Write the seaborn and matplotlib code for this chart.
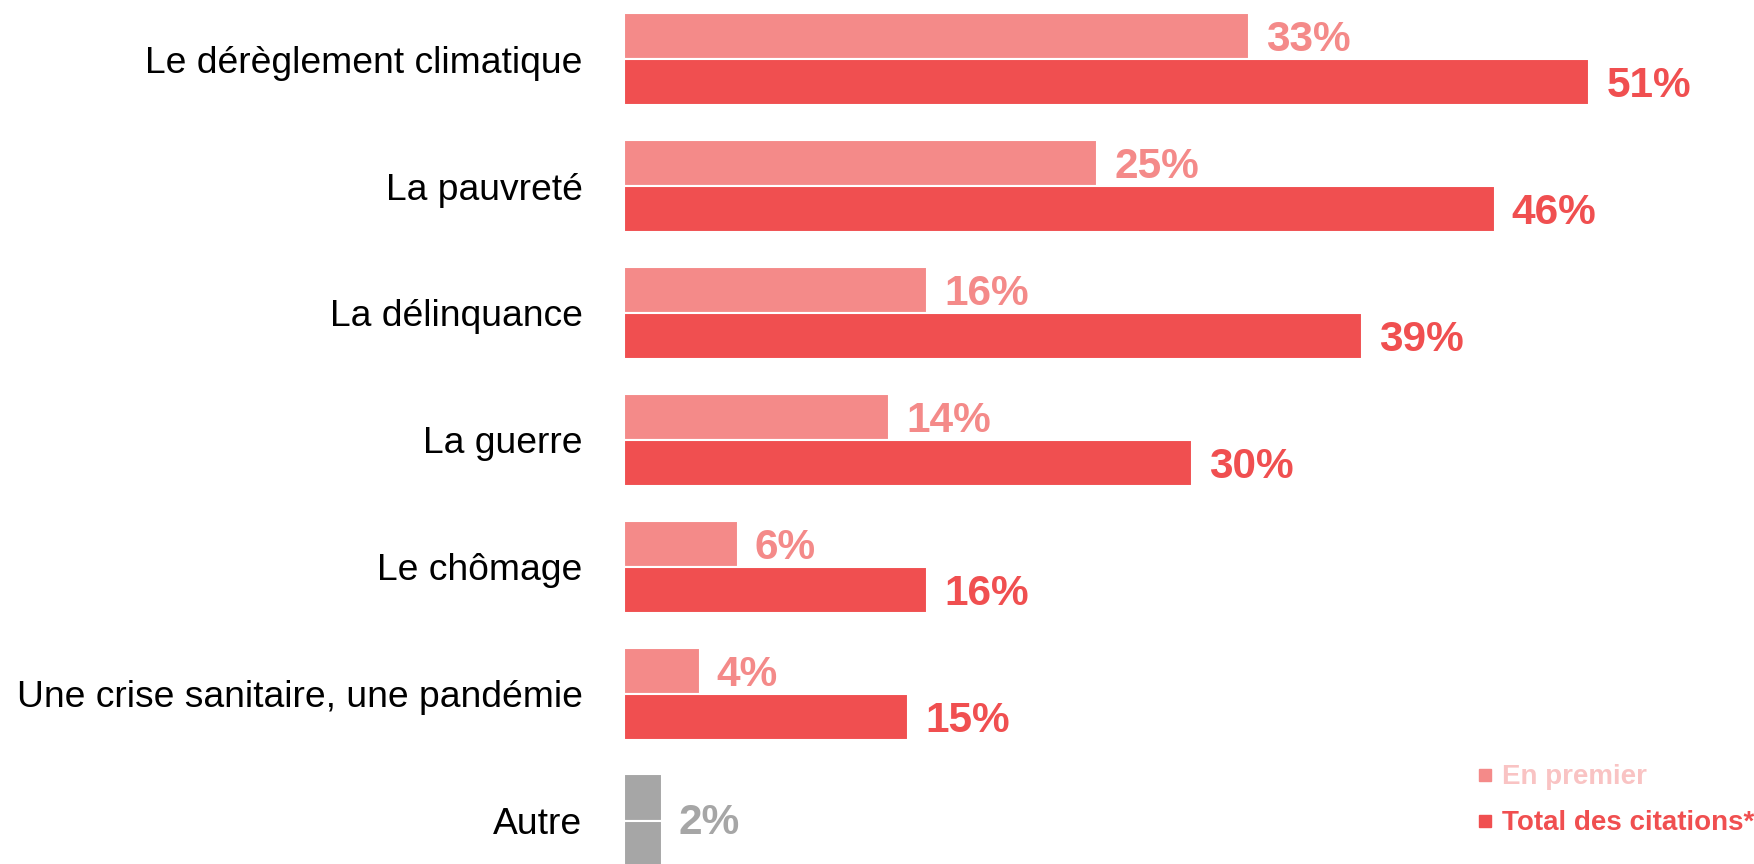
import pandas as pd
import matplotlib.pyplot as plt
import seaborn as sns
from matplotlib.lines import Line2D

# Data
categories = ['Le dérèglement climatique', 'La pauvreté', 'La délinquance', 'La guerre',
              'Le chômage', 'Une crise sanitaire, une pandémie', 'Autre']
en_premier = [33, 25, 16, 14, 6, 4, 2]
total_citations = [51, 46, 39, 30, 16, 15, 2]
series_names = ['En premier', 'Total des citations*']

light = '#F48A89'
dark = '#F04F50'
grey = '#A6A6A6'
legend_light = '#F9C3C3'

sns.set_style('white')
plt.rcParams['font.family'] = ['Liberation Sans', 'DejaVu Sans']

df = pd.DataFrame({
    'Categorie': categories * 2,
    'Valeur': en_premier + total_citations,
    'Serie': [series_names[0]] * len(categories) + [series_names[1]] * len(categories),
})

fig = plt.figure(figsize=(17.54, 8.64), dpi=100)
ax = fig.add_axes([0.3558, 0.0, 0.6442, 1.0])

sns.barplot(data=df, y='Categorie', x='Valeur', hue='Serie', order=categories,
            hue_order=series_names, palette=[light, dark], saturation=1, width=0.73,
            orient='h', edgecolor='white', linewidth=1.5, legend=False, ax=ax)

# grey bars for "Autre"
n = len(categories)
for container in ax.containers:
    container.patches[n - 1].set_facecolor(grey)

# value labels
for i, container in enumerate(ax.containers):
    color = light if i == 0 else dark
    for j, patch in enumerate(container.patches):
        if j == n - 1:
            continue
        v = patch.get_width()
        yc = patch.get_y() + patch.get_height() / 2
        ax.text(v + 0.9, yc + 0.03, f'{v:.0f}%', color=color, fontsize=30.5,
                fontweight='bold', va='center', ha='left')
ax.text(en_premier[-1] + 0.9, n - 1 + 0.02, f'{en_premier[-1]}%', color=grey, fontsize=30.5,
        fontweight='bold', va='center', ha='left')

ax.set_xlim(0, 59.7)
ax.set_ylim(6.34, -0.465)
ax.set_xlabel('')
ax.set_ylabel('')
ax.set_xticks([])
ax.tick_params(axis='y', length=0, pad=30, labelsize=26.8, labelcolor='black')
sns.despine(ax=ax, left=True, bottom=True)

handles = [Line2D([], [], marker='s', linestyle='none', color=light, markersize=8),
           Line2D([], [], marker='s', linestyle='none', color=dark, markersize=8)]
fig.legend(handles, series_names, loc='lower right', bbox_to_anchor=(1.0, 0.032),
           frameon=False, handlelength=0.5, handletextpad=0.35, borderpad=0,
           borderaxespad=0, labelspacing=0.72, prop={'size': 20, 'weight': 'bold'},
           labelcolor=[legend_light, dark])

fig.savefig('out.png', dpi=100)
